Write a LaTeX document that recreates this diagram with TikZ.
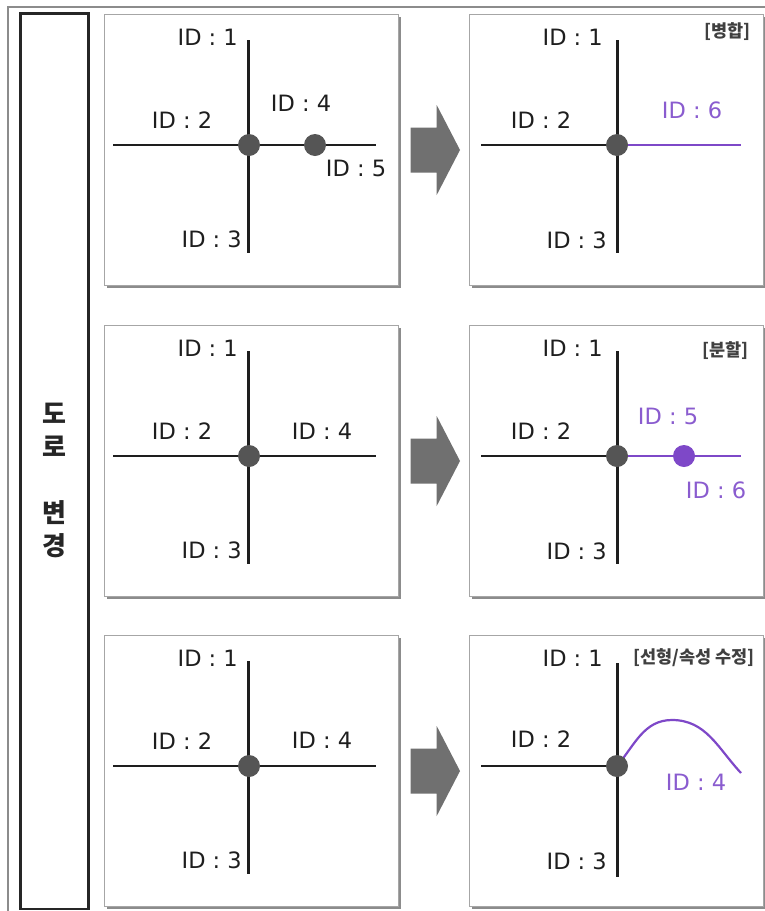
\documentclass[tikz,border=0pt]{standalone}
\usepackage{fontspec}
\setmainfont{DejaVu Sans}
\newfontfamily\kr{Noto Sans CJK KR}
\definecolor{roadc}{HTML}{1E1E1E}
\definecolor{dotc}{HTML}{555555}
\definecolor{purp}{HTML}{7E48C8}
\definecolor{purpt}{HTML}{8A5CCF}
\definecolor{arrc}{HTML}{707070}
\tikzset{
  road/.style={draw=roadc, line width=2.6pt},
  proad/.style={draw=purp, line width=2.6pt},
  jdot/.style={circle, fill=dotc, inner sep=0pt, minimum size=22pt},
  pdot/.style={circle, fill=purp, inner sep=0pt, minimum size=22pt},
  idl/.style={inner sep=0pt, text height=1.4ex, text depth=0pt, font=\fontsize{22.5}{24}\selectfont, text=roadc},
  idp/.style={idl, text=purpt},
  tag/.style={inner sep=0pt, font=\kr\bfseries\fontsize{17.5}{19}\selectfont, text=black!75},
  panelbox/.style={draw=black!35, line width=1pt, fill=white},
  panelshadow/.style={fill=black!45},
  arrowshape/.style={fill=arrc},
}
\begin{document}
\begin{tikzpicture}[x=1pt,y=-1pt]
\useasboundingbox (0,0) rectangle (764,911);
\fill[white] (0,0) rectangle (764,911);
% outer frame
\draw[black!45, line width=2pt] (8,920) -- (8,6.5) -- (770,6.5);
% left label box
\draw[black!85, line width=2.3pt] (20.5,13.5) rectangle (88.5,909);
\node[inner sep=0pt, align=center, font=\kr\bfseries\fontsize{26}{33}\selectfont, text=black!85] (lbl) at (54.5,480) {도\\로\\[33pt]변\\경};

% panels
\foreach \dy in {0,311,621} {
  \fill[panelshadow] (106.5,16.5+\dy) rectangle (400.5,287.5+\dy);
  \draw[panelbox] (104.5,14.5+\dy) rectangle (398,285+\dy);
  \fill[panelshadow] (471.5,16.5+\dy) rectangle (765.5,287.5+\dy);
  \draw[panelbox] (469.5,14.5+\dy) rectangle (763,285+\dy);
  \fill[arrowshape] (410.7,127.5+\dy) -- (436.7,127.5+\dy) -- (436.7,105+\dy) -- (460,150+\dy) -- (436.7,195+\dy) -- (436.7,172.5+\dy) -- (410.7,172.5+\dy) -- cycle;
}

% ===== Row 1 left =====
\coordinate (a1n) at (248.5,40);
\coordinate (a1s) at (248.5,253);
\coordinate (a1w) at (113,145);
\coordinate (a1e) at (376,145);
\draw[road] (a1n) -- (a1s);
\draw[road] (a1w) -- (a1e);
\node[jdot] (a1j) at (249,145) {};
\node[jdot] (a1k) at (315,145) {};
\node[idl, anchor=east] (a1t1) at (238,42) {ID : 1};
\node[idl] (a1t2) at (182,125) {ID : 2};
\node[idl, anchor=east] (a1t3) at (242,244) {ID : 3};
\node[idl] (a1t4) at (301,108) {ID : 4};
\node[idl] (a1t5) at (356,173) {ID : 5};

% ===== Row 1 right =====
\coordinate (b1n) at (617.5,40);
\coordinate (b1s) at (617.5,253);
\coordinate (b1w) at (481,145);
\coordinate (b1e) at (741,145);
\draw[road] (b1n) -- (b1s);
\draw[road] (b1w) -- (617.5,145);
\draw[proad] (617.5,145) -- (b1e);
\node[jdot] (b1j) at (617,145) {};
\node[idl, anchor=east] (b1t1) at (603,42) {ID : 1};
\node[idl] (b1t2) at (541,125) {ID : 2};
\node[idl, anchor=east] (b1t3) at (607,245) {ID : 3};
\node[idp] (b1t6) at (692,115) {ID : 6};
\node[tag, anchor=east] (b1tag) at (751,32) {[병합]};

% ===== Row 2 left =====
\coordinate (a2n) at (248.5,351);
\coordinate (a2s) at (248.5,564);
\coordinate (a2w) at (113,456);
\coordinate (a2e) at (376,456);
\draw[road] (a2n) -- (a2s);
\draw[road] (a2w) -- (a2e);
\node[jdot] (a2j) at (249,456) {};
\node[idl, anchor=east] (a2t1) at (238,353) {ID : 1};
\node[idl] (a2t2) at (182,436) {ID : 2};
\node[idl, anchor=east] (a2t3) at (242,555) {ID : 3};
\node[idl] (a2t4) at (322,436) {ID : 4};

% ===== Row 2 right =====
\coordinate (b2n) at (617.5,351);
\coordinate (b2s) at (617.5,564);
\coordinate (b2w) at (481,456);
\coordinate (b2e) at (741,456);
\draw[road] (b2n) -- (b2s);
\draw[road] (b2w) -- (617.5,456);
\draw[proad] (617.5,456) -- (b2e);
\node[jdot] (b2j) at (617,456) {};
\node[pdot] (b2k) at (684,456) {};
\node[idl, anchor=east] (b2t1) at (603,353) {ID : 1};
\node[idl] (b2t2) at (541,436) {ID : 2};
\node[idl, anchor=east] (b2t3) at (607,556) {ID : 3};
\node[idp] (b2t5) at (668,421) {ID : 5};
\node[idp] (b2t6) at (716,495) {ID : 6};
\node[tag, anchor=east] (b2tag) at (749,351) {[분할]};

% ===== Row 3 left =====
\coordinate (a3n) at (248.5,661);
\coordinate (a3s) at (248.5,874);
\coordinate (a3w) at (113,766);
\coordinate (a3e) at (376,766);
\draw[road] (a3n) -- (a3s);
\draw[road] (a3w) -- (a3e);
\node[jdot] (a3j) at (249,766) {};
\node[idl, anchor=east] (a3t1) at (238,663) {ID : 1};
\node[idl] (a3t2) at (182,746) {ID : 2};
\node[idl, anchor=east] (a3t3) at (242,865) {ID : 3};
\node[idl] (a3t4) at (322,745) {ID : 4};

% ===== Row 3 right =====
\coordinate (b3n) at (617.5,663);
\coordinate (b3s) at (617.5,877);
\coordinate (b3w) at (481,766);
\coordinate (b3p) at (672,720);
\coordinate (b3e) at (741,773);
\draw[road] (b3n) -- (b3s);
\draw[road] (b3w) -- (617.5,766);
\draw[proad, line width=2.2pt] (617,766) to[out=50,in=180] (b3p) to[out=0,in=133] (b3e);
\node[jdot] (b3j) at (617,766) {};
\node[idl, anchor=east] (b3t1) at (603,663) {ID : 1};
\node[idl] (b3t2) at (541,744) {ID : 2};
\node[idl, anchor=east] (b3t3) at (607,866) {ID : 3};
\node[idp] (b3t4) at (696,787) {ID : 4};
\node[tag, anchor=east] (b3tag) at (755,658) {[선형/속성 수정]};
\end{tikzpicture}
\end{document}
